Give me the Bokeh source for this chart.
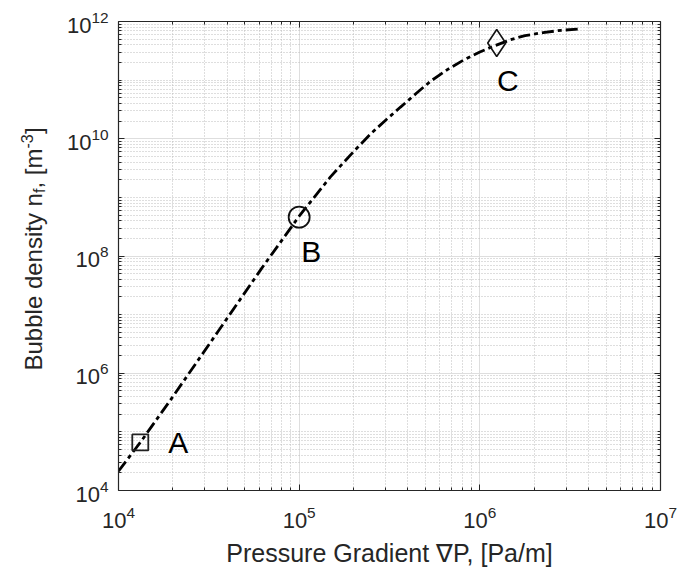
from bokeh.plotting import figure
from bokeh.layouts import row
from bokeh.models import (ColumnDataSource, FixedTicker, LogAxis, LogTickFormatter,
                          CustomJSTickFormatter, Label, Range1d)
from bokeh.core.properties import value
from bokeh.embed import file_html
from bokeh.resources import INLINE

# ---- data ----
grad_p = [1.0e4, 1.32e4, 2.0e4, 3.57e4, 6.17e4, 7.94e4, 1.0e5, 1.49e5, 2.0e5, 2.48e5,
          3.02e5, 3.64e5, 4.47e5, 5.33e5, 6.61e5, 8.11e5, 1.0e6, 1.15e6, 1.48e6,
          1.78e6, 2.24e6, 2.82e6, 3.52e6]
density = [2.14e4, 6.6e4, 4.0e5, 5.25e6, 6.03e7, 1.78e8, 4.79e8, 2.24e9, 6.03e9, 1.2e10,
           2.09e10, 3.47e10, 6.03e10, 9.55e10, 1.51e11, 2.19e11, 3.02e11, 3.63e11, 4.9e11,
           5.75e11, 6.46e11, 7.08e11, 7.41e11]

point_names = ["A", "B", "C"]
point_x = [1.32e4, 1.0e5, 1.24e6]
point_y = [6.6e4, 4.6e8, 4.3e11]

x_major_ticks = [1e4, 1e5, 1e6, 1e7]
y_major_ticks = [1e4, 1e6, 1e8, 1e10, 1e12]
x_minor_ticks = [m * 10.0 ** e for e in range(4, 7) for m in range(2, 10)]
y_minor_ticks = [m * 10.0 ** e for e in range(4, 12) for m in range(1, 10)
                 if not (m == 1 and e % 2 == 0)]

FONT = "Liberation Sans"
TXT = "#262626"
LAB_W = 58
H = 572
TOP, BOTTOM = 21, 82

p = figure(width=679 - LAB_W, height=H, x_axis_type="log", y_axis_type="log",
           x_range=Range1d(1e4, 1e7), y_range=Range1d(1e4, 1e12),
           output_backend="svg", toolbar_location=None,
           min_border_left=118 - LAB_W, min_border_right=19, min_border_top=TOP,
           min_border_bottom=BOTTOM)
p.background_fill_color = "white"
p.border_fill_color = "white"
p.outline_line_color = None

xt = FixedTicker(ticks=x_major_ticks, minor_ticks=x_minor_ticks)
yt = FixedTicker(ticks=y_major_ticks, minor_ticks=y_minor_ticks)


def style_axis(ax, ticker, labels=True):
    ax.ticker = ticker
    ax.axis_line_color = TXT
    ax.axis_line_width = 1.2
    ax.major_tick_line_color = TXT
    ax.minor_tick_line_color = TXT
    ax.major_tick_in = 6
    ax.major_tick_out = 0
    ax.minor_tick_in = 3
    ax.minor_tick_out = 0
    if labels:
        ax.formatter = LogTickFormatter()
        ax.major_label_text_font = FONT
        ax.major_label_text_font_size = "22px"
        ax.major_label_text_color = TXT
    else:
        ax.formatter = CustomJSTickFormatter(code="return ''")
        ax.major_label_text_font_size = "0px"
        ax.major_label_standoff = 0


xa = p.xaxis[0]
ya = p.yaxis[0]
style_axis(xa, xt)
style_axis(ya, yt)
xa.major_label_standoff = 15
ya.major_label_standoff = 10
xa.axis_label = "Pressure Gradient \u2207P, [Pa/m]"
xa.axis_label_text_font = FONT
xa.axis_label_text_font_size = "25px"
xa.axis_label_text_font_style = "normal"
xa.axis_label_text_color = TXT
xa.axis_label_standoff = 8

top = LogAxis()
right = LogAxis()
style_axis(top, xt, labels=False)
style_axis(right, yt, labels=False)
p.add_layout(top, "above")
p.add_layout(right, "right")

p.xgrid.ticker = xt
p.ygrid.ticker = yt
for g in (p.xgrid[0], p.ygrid[0]):
    g.grid_line_color = "#dedede"
    g.grid_line_width = 1
    g.minor_grid_line_color = "#bdbdbd"
    g.minor_grid_line_dash = "1 2"
    g.minor_grid_line_width = 1

src = ColumnDataSource(dict(x=grad_p, y=density))
p.line("x", "y", source=src, line_color="black", line_width=2.8, line_dash="12 4 4 4")

p.scatter([point_x[0]], [point_y[0]], marker="square", size=16, fill_color=None,
          line_color="#222222", line_width=1.8)
p.scatter([point_x[1]], [point_y[1]], marker="circle", size=21, fill_color=None,
          line_color="#111111", line_width=1.8)
p.scatter([point_x[2]], [point_y[2]], marker="diamond", size=27, fill_color=None,
          line_color="#111111", line_width=1.6)

offsets = [(38, 0), (12, -34), (11, -38)]
for name, px, py, (dx, dy) in zip(point_names, point_x, point_y, offsets):
    p.add_layout(Label(x=px, y=py, x_offset=dx, y_offset=dy, text=name,
                       text_font=FONT, text_font_size="30px", text_color="black",
                       text_align="center", text_baseline="middle"))

# ---- y axis label panel (label with subscript f and superscript -3) ----
# the panel's frame is aligned with the main frame, so map it 1:1 to pixels
lab = figure(width=LAB_W, height=H, x_range=Range1d(0, LAB_W),
             y_range=Range1d(BOTTOM, H - TOP),
             output_backend="svg", toolbar_location=None, min_border=0,
             x_axis_location=None, y_axis_location=None)
lab.grid.visible = False
lab.outline_line_color = None
lab.background_fill_color = "white"
lab.border_fill_color = "white"

pieces = [("Bubble density n", "24px", 33, 202),
          ("f", "16px", 39, 379.5),
          (", [m", "24px", 33, 384),
          ("-3", "16px", 26, 424),
          ("]", "24px", 33, 438.5)]
for txt, fs, lx, ly in pieces:
    lab.text(x=[lx], y=[ly], text=[txt], angle=1.5707963,
             text_font=value(FONT), text_font_size=fs, text_color=TXT,
             text_align="left", text_baseline="alphabetic")

layout = row(lab, p)
open("out.html", "w").write(file_html(layout, INLINE))
